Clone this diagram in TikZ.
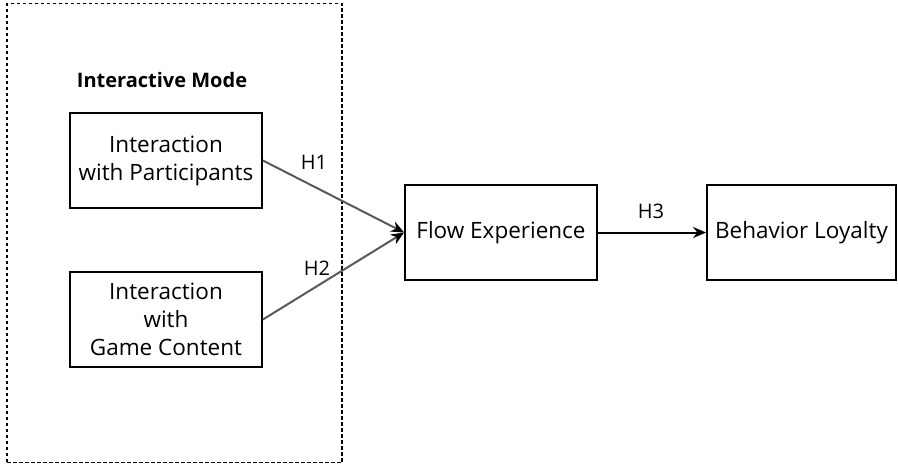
\documentclass[tikz,border=0pt]{standalone}
\usepackage{fontspec}
\setmainfont{Open Sans}
\usetikzlibrary{arrows.meta,positioning}

\tikzset{
    var/.style={draw,line width=1.8pt,minimum width=192pt,minimum height=95pt,align=center,
        font=\fontsize{22.5}{28}\selectfont},
    path/.style={line width=2pt,-{Stealth[length=13pt,width=11pt,black]}},
    hyp/.style={font=\fontsize{20}{24}\selectfont}
}

\begin{document}
\begin{tikzpicture}[x=1pt,y=-1pt]
    \useasboundingbox (0,0) rectangle (898,464);
    % grouping frame
    \node[draw,line width=1.3pt,dash pattern=on 3.5pt off 2.5pt,minimum width=335pt,minimum height=459pt,inner sep=0pt] (mode) at (174.5,233) {};
    \node[font=\bfseries\fontsize{20}{24}\selectfont] (modetitle) at (162,80) {Interactive Mode};

    \node[var] (part) at (166,160.5) {Interaction\\with Participants};
    \node[var] (game) at (166,319.5) {Interaction\\with\\Game Content};
    \node[var] (flow) at (501,232.5) {Flow Experience};
    \node[var,minimum width=189pt] (loyal) at (801.5,232.5) {Behavior Loyalty};

    \draw[path,draw=black!65] (part.east) -- (flow.west);
    \draw[path,draw=black!65] (game.east) -- (flow.west);
    \draw[path] (flow) -- (loyal);

    \node[hyp] (h1) at (314,162) {H1};
    \node[hyp] (h2) at (317,268) {H2};
    \node[hyp] (h3) at (651,211) {H3};
\end{tikzpicture}
\end{document}
